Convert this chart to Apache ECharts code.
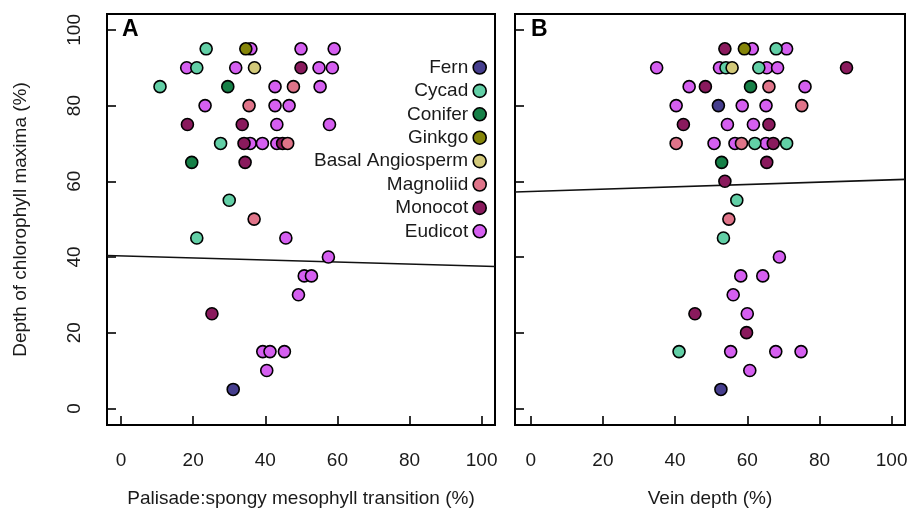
<!DOCTYPE html>
<html>
<head>
<meta charset="utf-8">
<script src="https://cdn.jsdelivr.net/npm/echarts@6/dist/echarts.min.js"></script>
<style>
  html, body { margin: 0; padding: 0; background: #fff; }
  #chart { width: 907px; height: 508px; }
</style>
</head>
<body>
<div id="chart"></div>
<script>
const groups = ['Fern', 'Cycad', 'Conifer', 'Ginkgo', 'Basal Angiosperm', 'Magnoliid', 'Monocot', 'Eudicot'];
const groupCodes = ['Fe', 'Cy', 'Co', 'Gi', 'Ba', 'Ma', 'Mo', 'Eu'];
const groupColors = ['#463e8e', '#62cfa6', '#168047', '#858509', '#d2c97a', '#df7489', '#8a1a5d', '#d55ff0'];
// later in this list = drawn on top
const drawOrder = ['Eu', 'Mo', 'Ma', 'Fe', 'Co', 'Cy', 'Gi', 'Ba'];
const tickValues = [0, 20, 40, 60, 80, 100];

// panel A: palisade:spongy mesophyll transition vs depth of chlorophyll maxima
const aX = [23.6, 34.6, 36.0, 49.9, 59.1,
  18.2, 21.0, 31.8, 37.0, 49.9, 54.9, 58.6,
  10.8, 29.6, 42.7, 47.8, 55.2,
  23.3, 35.5, 42.7, 46.6,
  18.4, 33.6, 43.2, 57.8,
  27.6, 34.1, 35.8, 39.2, 43.2, 44.8, 46.2,
  19.6, 34.4,
  30.0, 36.9, 21.0, 45.7, 57.5, 50.8, 52.8, 49.2, 25.2, 39.3, 41.3, 45.3, 40.4, 31.1];
const aY = [95, 95, 95, 95, 95,
  90, 90, 90, 90, 90, 90, 90,
  85, 85, 85, 85, 85,
  80, 80, 80, 80,
  75, 75, 75, 75,
  70, 70, 70, 70, 70, 70, 70,
  65, 65,
  55, 50, 45, 45, 40, 35, 35, 30, 25, 15, 15, 15, 10, 5];
const aG = ['Cy', 'Gi', 'Eu', 'Eu', 'Eu',
  'Eu', 'Cy', 'Eu', 'Ba', 'Mo', 'Eu', 'Eu',
  'Cy', 'Co', 'Eu', 'Ma', 'Eu',
  'Eu', 'Ma', 'Eu', 'Eu',
  'Mo', 'Mo', 'Eu', 'Eu',
  'Cy', 'Mo', 'Eu', 'Eu', 'Eu', 'Mo', 'Ma',
  'Co', 'Mo',
  'Cy', 'Ma', 'Cy', 'Eu', 'Eu', 'Eu', 'Eu', 'Eu', 'Mo', 'Eu', 'Eu', 'Eu', 'Eu', 'Fe'];

// panel B: vein depth vs depth of chlorophyll maxima
const bX = [53.8, 59.2, 61.4, 68.0, 70.9,
  34.9, 52.3, 54.1, 55.8, 63.2, 65.4, 68.4, 87.5,
  43.9, 48.4, 60.9, 66.0, 76.0,
  40.3, 52.0, 58.6, 65.2, 75.1,
  42.3, 54.5, 61.7, 66.0,
  40.3, 50.8, 56.6, 58.4, 62.1, 65.2, 67.2, 70.9,
  52.9, 65.4,
  53.8, 57.1, 54.9, 53.4, 68.9, 58.2, 64.3, 56.1, 45.5, 60.0, 59.8,
  41.1, 55.4, 67.9, 74.9, 60.7, 52.7];
const bY = [95, 95, 95, 95, 95,
  90, 90, 90, 90, 90, 90, 90, 90,
  85, 85, 85, 85, 85,
  80, 80, 80, 80, 80,
  75, 75, 75, 75,
  70, 70, 70, 70, 70, 70, 70, 70,
  65, 65,
  60, 55, 50, 45, 40, 35, 35, 30, 25, 25, 20,
  15, 15, 15, 15, 10, 5];
const bG = ['Mo', 'Gi', 'Eu', 'Cy', 'Eu',
  'Eu', 'Eu', 'Cy', 'Ba', 'Cy', 'Eu', 'Eu', 'Mo',
  'Eu', 'Mo', 'Co', 'Ma', 'Eu',
  'Eu', 'Fe', 'Eu', 'Eu', 'Ma',
  'Mo', 'Eu', 'Eu', 'Mo',
  'Ma', 'Eu', 'Eu', 'Ma', 'Cy', 'Eu', 'Mo', 'Cy',
  'Co', 'Mo',
  'Mo', 'Cy', 'Ma', 'Cy', 'Eu', 'Eu', 'Eu', 'Eu', 'Mo', 'Eu', 'Mo',
  'Cy', 'Eu', 'Eu', 'Eu', 'Eu', 'Fe'];

// linear fits [intercept, slope]
const fitA = [40.3, -0.027];
const fitB = [57.3, 0.031];

// axis limits (frame edges)
const xLimA = [-3.9, 103.7];
const xLimB = [-4.35, 103.7];
const yLim = [-4.4, 104.2];

const FONT = '"Liberation Sans", Arial, Helvetica, sans-serif';
const TXT = '#1a1a1a';

const chart = echarts.init(document.getElementById('chart'));

const fitSeries = (fit, lim, idx) => ({
  type: 'line',
  xAxisIndex: idx,
  yAxisIndex: idx,
  data: lim.map(x => [x, fit[0] + fit[1] * x]),
  symbol: 'none',
  silent: true,
  lineStyle: { color: '#111', width: 1.6 },
  z: 1
});

const pointSeries = (xs, ys, gs, idx) => drawOrder.map(code => {
  const gi = groupCodes.indexOf(code);
  const pts = [];
  gs.forEach((g, i) => { if (g === code) pts.push([xs[i], ys[i]]); });
  return {
    type: 'scatter',
    name: groups[gi],
    xAxisIndex: idx,
    yAxisIndex: idx,
    data: pts,
    symbol: 'circle',
    symbolSize: 12,
    itemStyle: { color: groupColors[gi], borderColor: '#000', borderWidth: 1.6, opacity: 1 },
    z: 3
  };
});

const xAxisBase = (lim, idx, name) => ({
  type: 'value',
  gridIndex: idx,
  min: lim[0],
  max: lim[1],
  name: name,
  nameLocation: 'middle',
  nameGap: 64,
  nameTextStyle: { fontFamily: FONT, fontSize: 19, color: TXT },
  axisLine: { show: false, onZero: false },
  splitLine: { show: false },
  axisTick: { show: true, inside: true, length: 9, customValues: tickValues, lineStyle: { color: '#000', width: 1.6 } },
  axisLabel: { show: true, customValues: tickValues, margin: 26, fontFamily: FONT, fontSize: 19, color: TXT }
});

const yAxisBase = (idx, showLabels) => ({
  type: 'value',
  gridIndex: idx,
  min: yLim[0],
  max: yLim[1],
  name: showLabels ? 'Depth of chlorophyll maxima (%)' : '',
  nameLocation: 'middle',
  nameGap: 77,
  nameTextStyle: { fontFamily: FONT, fontSize: 19, color: TXT },
  axisLine: { show: false, onZero: false },
  splitLine: { show: false },
  axisTick: { show: true, inside: true, length: 9, customValues: tickValues, lineStyle: { color: '#000', width: 1.6 } },
  axisLabel: { show: showLabels, customValues: tickValues, rotate: 90, margin: 23, fontFamily: FONT, fontSize: 19, color: TXT }
});

const option = {
  animation: false,
  backgroundColor: '#fff',
  grid: [
    { left: 107, top: 14, width: 388, height: 411, show: true, borderColor: '#000', borderWidth: 2, containLabel: false, outerBoundsMode: 'none' },
    { left: 515, top: 14, width: 390, height: 411, show: true, borderColor: '#000', borderWidth: 2, containLabel: false, outerBoundsMode: 'none' }
  ],
  xAxis: [
    xAxisBase(xLimA, 0, 'Palisade:spongy mesophyll transition (%)'),
    xAxisBase(xLimB, 1, 'Vein depth (%)')
  ],
  yAxis: [yAxisBase(0, true), yAxisBase(1, false)],
  legend: {
    data: groups,
    orient: 'vertical',
    align: 'right',
    right: 415,
    top: 53,
    icon: 'circle',
    itemWidth: 13,
    itemHeight: 13,
    itemGap: 4.4,
    selectedMode: false,
    itemStyle: { borderColor: '#000', borderWidth: 1.6 },
    textStyle: { fontFamily: FONT, fontSize: 19, lineHeight: 19, color: TXT }
  },
  graphic: [
    { type: 'text', left: 122, top: 18, style: { text: 'A', font: 'bold 23px ' + FONT, fill: '#000' } },
    { type: 'text', left: 531, top: 18, style: { text: 'B', font: 'bold 23px ' + FONT, fill: '#000' } }
  ],
  series: [
    fitSeries(fitA, xLimA, 0),
    fitSeries(fitB, xLimB, 1),
    ...pointSeries(aX, aY, aG, 0),
    ...pointSeries(bX, bY, bG, 1)
  ]
};

chart.setOption(option);
</script>
</body>
</html>
